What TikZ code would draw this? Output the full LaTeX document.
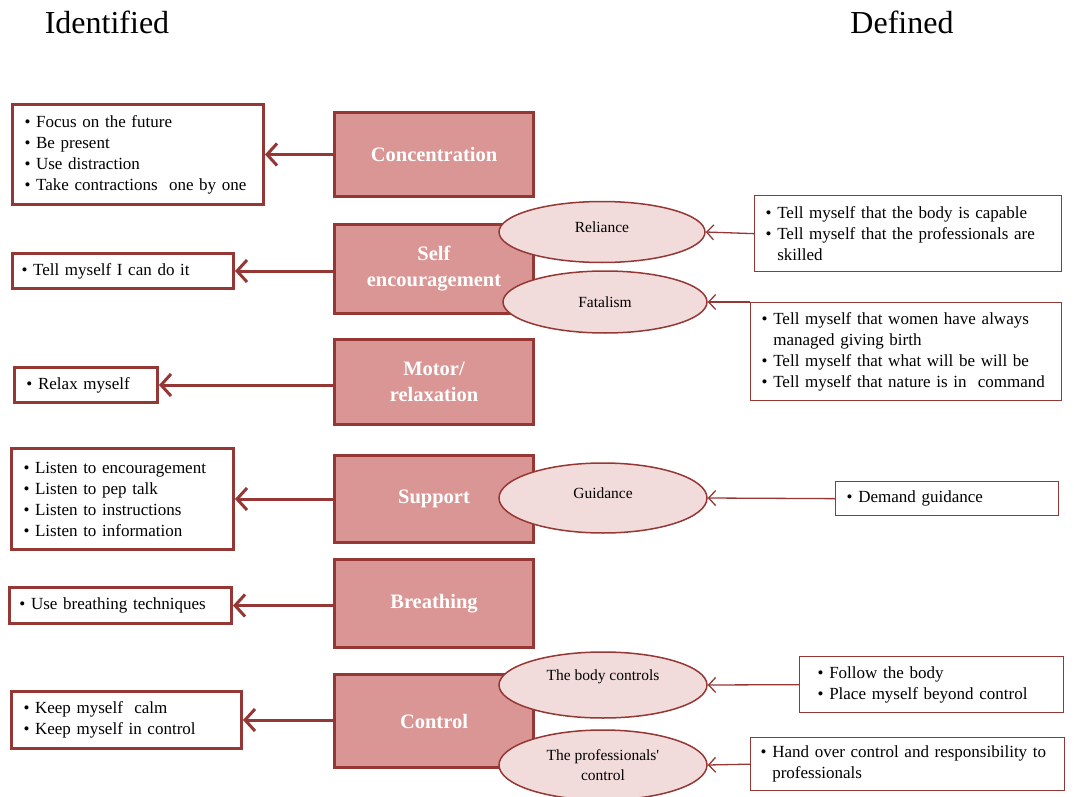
\documentclass[tikz,border=0pt]{standalone}
\usepackage{fontspec}
\setmainfont{Liberation Serif}[Ligatures=TeXOff]
\usetikzlibrary{arrows.meta,shapes.geometric}
\definecolor{dred}{RGB}{149,55,53}
\definecolor{mred}{RGB}{217,150,148}
\definecolor{lred}{RGB}{242,220,219}
\newcommand\bul[1]{\mbox{\textbullet\ #1}}
\newcommand\cont[1]{\mbox{\phantom{\textbullet\ }#1}}
\begin{document}
\begin{tikzpicture}[x=1pt,y=-1pt,
  catbox/.style={draw=dred,line width=3pt,fill=mred,text=white,
    font=\bfseries\fontsize{20.5}{26}\selectfont,align=center,
    minimum width=199pt,anchor=north west,inner sep=0pt},
  leftbox/.style={draw=dred,line width=3pt,fill=white,align=left,
    font=\fontsize{17}{21}\selectfont,inner ysep=0pt,anchor=north west},
  rightbox/.style={draw=dred,line width=1.3pt,fill=white,align=left,
    font=\fontsize{17}{21}\selectfont,inner ysep=0pt,anchor=north west},
  ell/.style={ellipse,draw=dred,line width=1.5pt,fill=lred,
    font=\fontsize{15.5}{20}\selectfont,inner sep=0pt,align=center},
  bigarr/.style={draw=dred,line width=3pt,-{Straight Barb[length=10pt,width=22pt]}},
  smallarr/.style={draw=dred,line width=1.3pt,-{Straight Barb[length=7pt,width=15pt]}},
  head/.style={font=\fontsize{32}{38}\selectfont}]
\useasboundingbox (0,0) rectangle (1074,797);

% headings
\node[head] (ident) at (107,22) {Identified};
\node[head] (defin) at (902,22) {Defined};

% central category boxes
\node[catbox,minimum height=84pt] (conc) at (333,111) {Concentration};
\node[catbox,minimum height=89pt] (self) at (333,223) {Self\\encouragement};
\node[catbox,minimum height=85pt] (motor) at (333,338) {Motor/\\relaxation};
\node[catbox,minimum height=87pt] (supp) at (333,454) {Support};
\node[catbox,minimum height=88pt] (breath) at (333,558) {Breathing};
\node[catbox,minimum height=93pt] (ctrl) at (333,673) {Control};

% ellipses
\node[ell,minimum width=206pt,minimum height=61pt,text depth=10pt] (rel) at (602,232) {Reliance};
\node[ell,minimum width=204pt,minimum height=62pt] (fat) at (605,302) {Fatalism};
\node[ell,minimum width=208pt,minimum height=70pt,text depth=10pt] (guid) at (603,498) {Guidance};
\node[ell,minimum width=208pt,minimum height=66pt,text depth=20pt] (body) at (603,685) {The body controls};
\node[ell,minimum width=208pt,minimum height=70pt] (prof) at (603,765) {The professionals'\\control};

% left boxes
\node[leftbox,inner xsep=12pt,text width=227pt,minimum height=100pt] (conclist) at (11,103)
  {\bul{Focus on the future}\\\bul{Be present}\\\bul{Use distraction}\\\bul{Take contractions\ \ one by one}};
\node[leftbox,inner xsep=9pt,text width=203pt,minimum height=35pt] (selflist) at (11,252)
  {\bul{Tell myself I can do it}};
\node[leftbox,inner xsep=12pt,text width=119pt,minimum height=35pt] (motorlist) at (13,366)
  {\bul{Relax myself}};
\node[leftbox,inner xsep=12pt,text width=198pt,minimum height=101pt] (supplist) at (10,447)
  {\bul{Listen to encouragement}\\\bul{Listen to pep talk}\\\bul{Listen to instructions}\\\bul{Listen to information}};
\node[leftbox,inner xsep=10pt,text width=202pt,minimum height=36pt] (breathlist) at (8,586)
  {\bul{Use breathing techniques}};
\node[leftbox,inner xsep=12pt,text width=206pt,minimum height=57pt] (ctrllist) at (10,690)
  {\bul{Keep myself\ \ calm}\\\bul{Keep myself in control}};

% right boxes
\node[rightbox,inner xsep=11pt,text width=285pt,minimum height=76pt] (relbox) at (754,195)
  {\bul{Tell myself that the body is capable}\\\bul{Tell myself that the professionals are}\\\cont{skilled}};
\node[rightbox,inner xsep=11pt,text width=289pt,minimum height=98pt] (fatbox) at (750,302)
  {\bul{Tell myself that women have always}\\\cont{managed giving birth}\\\bul{Tell myself that what will be will be}\\\bul{Tell myself that nature is in\ \ command}};
\node[rightbox,inner xsep=11pt,text width=201pt,minimum height=34pt] (guidbox) at (835,481)
  {\bul{Demand guidance}};
\node[rightbox,inner xsep=18pt,text width=228pt,minimum height=56pt] (bodybox) at (799,656)
  {\bul{Follow the body}\\\bul{Place myself beyond control}};
\node[rightbox,inner xsep=10pt,text width=294pt,minimum height=53pt] (profbox) at (750,737)
  {\bul{Hand over control and responsibility to}\\\cont{professionals}};

% left arrows
\draw[bigarr] (conc.west |- conclist.east) -- (conclist.east);
\draw[bigarr] (self.west |- selflist.east) -- (selflist.east);
\draw[bigarr] (motor.west |- motorlist.east) -- (motorlist.east);
\draw[bigarr] (supp.west |- supplist.east) -- (supplist.east);
\draw[bigarr] (breath.west |- breathlist.east) -- (breathlist.east);
\draw[bigarr] (ctrl.west |- ctrllist.east) -- (ctrllist.east);

% right arrows
\draw[smallarr] (relbox.west) -- (rel.east);
\draw[smallarr] (fatbox.north west) -- (fat.east);
\draw[smallarr] (guidbox.west) -- (guid.east);
\draw[smallarr] (bodybox.west) -- (body.east);
\draw[smallarr] (profbox.west) -- (prof.east);
\end{tikzpicture}
\end{document}
